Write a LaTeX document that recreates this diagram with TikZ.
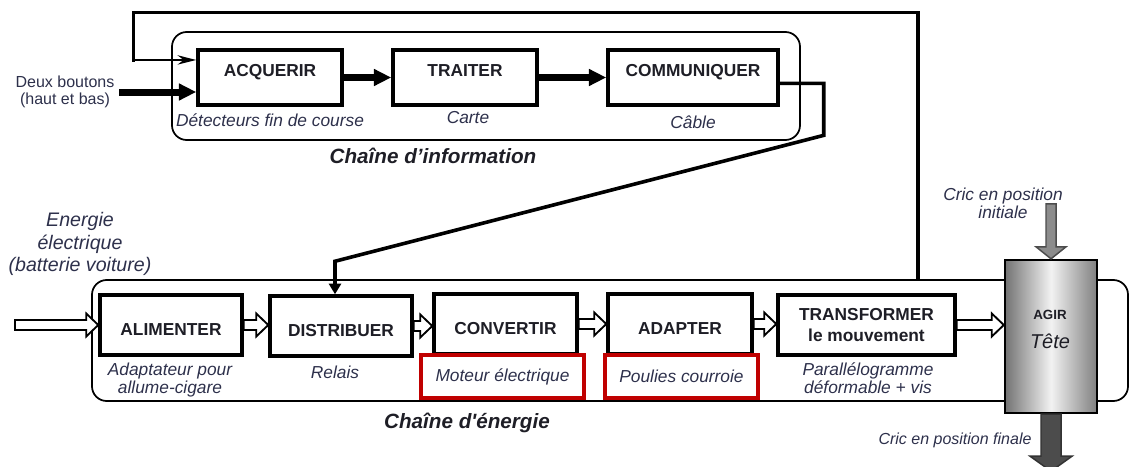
\documentclass[tikz,border=0pt]{standalone}
\usepackage{fontspec}
\setmainfont{Liberation Sans}
\usetikzlibrary{positioning,calc,arrows.meta}

\definecolor{legende}{RGB}{45,48,75}
\definecolor{titre}{RGB}{30,30,38}
\definecolor{cadrerouge}{RGB}{192,0,0}

\tikzset{
  chaine/.style={draw, line width=1.3pt, rounded corners=11pt},
  bloc/.style={draw, line width=2.6pt, fill=white, text=titre, inner sep=0pt,
    font=\bfseries\fontsize{13}{16}\selectfont},
  blocinfo/.style={bloc, minimum height=41.25pt, text height=9.3pt, text depth=11.2pt},
  blocener/.style={bloc, minimum height=45pt, text height=15pt, text depth=0pt},
  legende/.style={font=\itshape\fontsize{13}{13.5}\selectfont, text=legende, align=center, inner sep=1pt},
  cadre/.style={legende, draw=cadrerouge, line width=2.8pt, minimum height=32.25pt},
  titrechaine/.style={font=\bfseries\itshape\fontsize{15.5}{18}\selectfont, text=titre},
  fleche/.style={line width=5.25pt, -{Triangle[length=13pt,width=12pt]}},
  liaison/.style={line width=2.7pt, line join=miter, -{Triangle[length=8pt,width=9pt]}},
  boucle/.style={line width=2.4pt, line cap=rect},
  bouclefin/.style={line width=1.4pt, -{Stealth[length=14pt,width=7pt]}},
  creux/.style={draw, fill=white, line width=1.4pt, line join=miter},
  grisclair/.style={draw=black!70, fill=black!45, line width=1.1pt},
  grisfonce/.style={draw=black!80, fill=black!70, line width=1.1pt}
}

% fleche creuse d'un noeud a l'autre
\newcommand{\creuse}[2]{%
  \draw[creux] let \p1=(#1), \p2=(#2) in
    (\x1,\y1+3.75pt) -- (\x2-9pt,\y1+3.75pt) -- (\x2-9pt,\y1+8.6pt) -- (\x2,\y1)
    -- (\x2-9pt,\y1-8.6pt) -- (\x2-9pt,\y1-3.75pt) -- (\x1,\y1-3.75pt) -- cycle;}

\begin{document}
\begin{tikzpicture}[x=0.75pt,y=-0.75pt]
  \useasboundingbox (0,0) rectangle (1134,467);

  % cadres des deux chaines
  \node[chaine, minimum width=471pt, minimum height=81pt] (chaineI) at (486,86) {};
  \node[chaine, minimum width=777pt, minimum height=90.75pt] (chaineE) at (610,340.5) {};
  \node[titrechaine] (t-info) at (433,156) {Chaîne d’information};
  \node[titrechaine] (t-ener) at (467,423) {Chaîne d\textquotesingle énergie};

  % chaine d'information
  \node[blocinfo, minimum width=108pt] (acq) at (270,77.5) {ACQUERIR};
  \node[blocinfo, minimum width=108pt] (trait) at (465,77.5) {TRAITER};
  \node[blocinfo, minimum width=127.5pt] (comm) at (693,77.5) {COMMUNIQUER};
  \node[legende] (l-acq) at (270,120) {Détecteurs fin de course};
  \node[legende] (l-trait) at (468,118) {Carte};
  \node[legende] (l-comm) at (693,122) {Câble};
  \node[font=\fontsize{12}{13}\selectfont, text=legende, align=center] (boutons) at (65,92)
    {Deux boutons\\(haut et bas)};

  \draw[fleche] (acq.east) -- (trait.west);
  \draw[fleche] (trait.east) -- (comm.west);
  \draw[fleche] (boutons.east) -- (boutons -| acq.west);

  % chaine d'energie
  \node[blocener, minimum width=106.5pt] (alim) at (171,325) {ALIMENTER};
  \node[blocener, minimum width=106.5pt] (dist) at (341,326) {DISTRIBUER};
  \node[blocener, minimum width=107.25pt] (conv) at (505.5,324) {CONVERTIR};
  \node[blocener, minimum width=108pt] (adapt) at (680,324) {ADAPTER};
  \node[bloc, minimum width=132.75pt, minimum height=45pt, align=center] (trans) at (866.5,325)
    {TRANSFORMER\\le mouvement};
  \node[legende] (l-alim) at (170,380) {Adaptateur pour\\allume-cigare};
  \node[legende] (l-dist) at (335,372) {Relais};
  \node[cadre, minimum width=122.25pt] (moteur) at (502.5,376.5) {Moteur électrique};
  \node[cadre, minimum width=114.75pt] (poulies) at (681.5,376.5) {Poulies courroie};
  \node[legende] (l-trans) at (868,378) {Parallélogramme\\déformable + vis};
  \node[font=\itshape\fontsize{14.7}{17}\selectfont, text=legende, align=center] (energie) at (80,244)
    {Energie\\électrique\\(batterie voiture)};

  % liaisons entre les chaines
  \coordinate (retour) at ($(chaineE.north)+(308,0)$);
  \coordinate (acqin) at ($(acq.north west)!0.2!(acq.south west)$);
  \coordinate (coude) at ($(acqin)+(-63,0)$);
  \draw[boucle] (retour) -- ++(0,-267) -| (coude);
  \draw[bouclefin] (coude) -- (acqin);
  \coordinate (commout) at ($(comm.north east)!0.6!(comm.south east)$);
  \draw[liaison] (commout) -- ++(44,0) -- ++(0,52) -- ($(dist.north)+(-6,-33)$) -- ($(dist.north)+(-6,0)$);

  % effecteur
  \node[draw, line width=1.8pt, minimum width=69pt, minimum height=114.75pt,
    left color=black!55, right color=black!50, middle color=white!95!black] (agir) at (1051,336.5) {};
  \node[font=\bfseries\fontsize{10}{12}\selectfont, text=titre] (agir-t) at (1050,315) {AGIR};
  \node[font=\itshape\fontsize{15}{18}\selectfont, text=titre] (tete) at (1050,341) {Tête};
  \coordinate (source) at (15,325);
  \creuse{source}{alim.west}
  \creuse{alim.east}{dist.west}
  \creuse{dist.east}{conv.west}
  \creuse{conv.east}{adapt.west}
  \creuse{adapt.east}{trans.west}
  \creuse{trans.east}{agir.west}
  \draw[grisclair] (agir.north) -- ++(-15,-12) -- ++(10,0) -- ++(0,-43) -- ++(10,0)
    -- ++(0,43) -- ++(10,0) -- cycle;
  \draw[grisfonce] (agir.south) ++(-10,0) -- ++(0,42) -- ++(-11,0) -- ++(21,15)
    -- ++(21,-15) -- ++(-11,0) -- ++(0,-42) -- cycle;
  \node[legende] (cric-init) at (1003,203) {Cric en position\\initiale};
  \node[legende, font=\itshape\fontsize{12}{13}\selectfont] (cric-fin) at (955,440) {Cric en position finale};
\end{tikzpicture}
\end{document}
